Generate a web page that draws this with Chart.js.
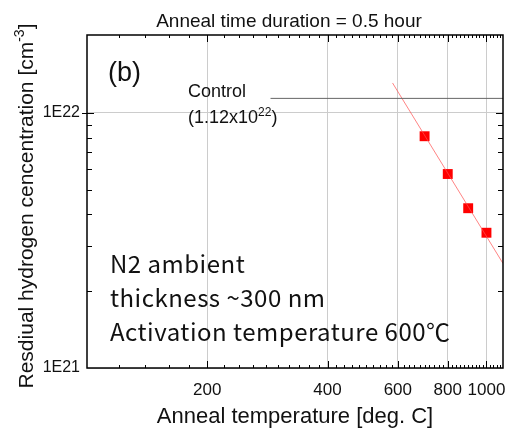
<!DOCTYPE html>
<html>
<head>
<meta charset="utf-8">
<script src="https://cdn.jsdelivr.net/npm/chart.js@4.4.0/dist/chart.umd.min.js"></script>
<style>
  html, body { margin: 0; padding: 0; background: #fff; }
  canvas { display: block; }
</style>
</head>
<body>
<canvas id="annealChart" width="513" height="429"></canvas>
<script>
// measured points (anneal temperature in deg C, residual H in cm^-3)
const tempC = [700, 800, 900, 1000];
const hConc = [8.1e21, 5.76e21, 4.23e21, 3.39e21];

// fitted line through the points
const fitTemp = [582, 1100];
const fitConc = [1.31e22, 2.57e21];

// control level (as-deposited)
const ctrlTemp = [288, 1100];
const ctrlConc = [1.14e22, 1.14e22];

// tick labels
const xTickVals = [200, 400, 600, 800, 1000];
const yTickVals = [1e21, 1e22];
const xMinorVals = [];
for (let v = 120; v <= 1080; v += 20) if (xTickVals.indexOf(v) < 0) xMinorVals.push(v);
const yMinorVals = [2e21, 3e21, 4e21, 5e21, 6e21, 7e21, 8e21, 9e21];

const sans = "'Liberation Sans', Arial, sans-serif";

// frame, inward ticks and all the text bits
const decorPlugin = {
    id: "decor",
    afterDraw(chart) {
        const ctx = chart.ctx;
        const a = chart.chartArea;
        const xs = chart.scales.x, ys = chart.scales.y;
        ctx.save();

        // inward tick marks
        ctx.strokeStyle = "#000";
        ctx.lineWidth = 1;
        ctx.beginPath();
        xMinorVals.forEach(v => {
            const px = Math.round(xs.getPixelForValue(v)) + 0.5;
            ctx.moveTo(px, a.bottom); ctx.lineTo(px, a.bottom - 3);
            ctx.moveTo(px, a.top); ctx.lineTo(px, a.top + 3);
        });
        xTickVals.forEach(v => {
            const px = Math.round(xs.getPixelForValue(v)) + 0.5;
            ctx.moveTo(px, a.bottom); ctx.lineTo(px, a.bottom - 7);
            ctx.moveTo(px, a.top); ctx.lineTo(px, a.top + 7);
        });
        yMinorVals.forEach(v => {
            const py = Math.round(ys.getPixelForValue(v)) + 0.5;
            ctx.moveTo(a.left, py); ctx.lineTo(a.left + 5, py);
            ctx.moveTo(a.right, py); ctx.lineTo(a.right - 5, py);
        });
        const p22 = Math.round(ys.getPixelForValue(1e22)) + 0.5;
        ctx.moveTo(a.left - 5, p22); ctx.lineTo(a.left + 7, p22);
        ctx.moveTo(a.right, p22); ctx.lineTo(a.right - 7, p22);
        ctx.stroke();

        // frame
        ctx.lineWidth = 1.5;
        ctx.strokeRect(a.left, a.top, a.right - a.left, a.bottom - a.top);

        ctx.fillStyle = "#111";
        ctx.textBaseline = "alphabetic";

        // title
        ctx.font = "19px " + sans;
        ctx.textAlign = "center";
        ctx.fillText("Anneal time duration = 0.5 hour", 289, 27);

        // x axis title
        ctx.font = "22px " + sans;
        ctx.fillText("Anneal temperature [deg. C]", (a.left + a.right) / 2, 423);

        // y axis title with superscript
        ctx.save();
        ctx.translate(33, 206);
        ctx.rotate(-Math.PI / 2);
        ctx.textAlign = "left";
        const t1 = "Resdiual hydrogen cencentration [cm", t2 = "-3", t3 = "]";
        ctx.font = "21px " + sans;
        const w1 = ctx.measureText(t1).width, w3 = ctx.measureText(t3).width;
        ctx.font = "14px " + sans;
        const w2 = ctx.measureText(t2).width;
        let x0 = -(w1 + w2 + w3) / 2;
        ctx.font = "21px " + sans;
        ctx.fillText(t1, x0, 0);
        ctx.font = "14px " + sans;
        ctx.fillText(t2, x0 + w1, -9);
        ctx.font = "21px " + sans;
        ctx.fillText(t3, x0 + w1 + w2, 0);
        ctx.restore();

        // panel label
        ctx.textAlign = "left";
        ctx.font = "27px " + sans;
        ctx.fillText("(b)", 108, 81);

        // control annotation
        ctx.font = "18px " + sans;
        ctx.fillText("Control", 188, 97);
        const c1 = "(1.12x10";
        ctx.fillText(c1, 188, 123);
        const cw = ctx.measureText(c1).width;
        ctx.font = "12px " + sans;
        ctx.fillText("22", 188 + cw, 116);
        const sw = ctx.measureText("22").width;
        ctx.font = "18px " + sans;
        ctx.fillText(")", 188 + cw + sw, 123);

        // conditions block
        ctx.font = "24px 'Noto Sans CJK JP', 'Noto Sans', sans-serif";
        ctx.letterSpacing = "0.5px";
        ctx.fillText("N2 ambient", 110, 273);
        ctx.fillText("thickness ~300 nm", 110, 307);
        ctx.fillText("Activation temperature 600\u2103", 110, 341);
        ctx.letterSpacing = "0px";

        ctx.restore();
    }
};

new Chart(document.getElementById("annealChart"), {
    type: "scatter",
    data: {
        datasets: [
            {
                label: "control",
                data: ctrlTemp.map((t, i) => ({ x: t, y: ctrlConc[i] })),
                showLine: true,
                borderColor: "#666",
                borderWidth: 1,
                pointRadius: 0
            },
            {
                label: "fit",
                data: fitTemp.map((t, i) => ({ x: t, y: fitConc[i] })),
                showLine: true,
                borderColor: "rgba(255, 80, 80, 0.7)",
                borderWidth: 1,
                pointRadius: 0
            },
            {
                label: "H conc.",
                data: tempC.map((t, i) => ({ x: t, y: hConc[i] })),
                pointStyle: "rect",
                pointRadius: 7,
                backgroundColor: "#ff0000",
                borderColor: "#ff0000",
                borderWidth: 0
            }
        ]
    },
    options: {
        responsive: false,
        animation: false,
        devicePixelRatio: 1,
        layout: { padding: { top: 35, right: 10, left: 0, bottom: 0 } },
        plugins: {
            legend: { display: false },
            tooltip: { enabled: false },
            title: { display: false }
        },
        scales: {
            x: {
                type: "logarithmic",
                min: 100,
                max: 1100,
                afterBuildTicks: s => { s.ticks = xTickVals.map(v => ({ value: v })); },
                afterFit: s => { s.height = 61; s.paddingLeft = 0; s.paddingRight = 0; },
                grid: { color: "#cccccc", lineWidth: 1, drawTicks: false },
                border: { display: false },
                ticks: {
                    autoSkip: false,
                    maxRotation: 0,
                    padding: 12,
                    color: "#111",
                    font: { family: sans, size: 17 },
                    callback: v => String(v)
                }
            },
            y: {
                type: "logarithmic",
                min: 1e21,
                max: 2.02e22,
                afterBuildTicks: s => { s.ticks = yTickVals.map(v => ({ value: v })); },
                afterFit: s => { s.width = 87; s.paddingTop = 0; s.paddingBottom = 0; },
                grid: { color: "#cccccc", lineWidth: 1, drawTicks: false },
                border: { display: false },
                ticks: {
                    autoSkip: false,
                    padding: 7,
                    color: "#111",
                    font: { family: sans, size: 16 },
                    callback: v => "1E" + Math.round(Math.log10(v))
                }
            }
        }
    },
    plugins: [decorPlugin]
});
</script>
</body>
</html>
